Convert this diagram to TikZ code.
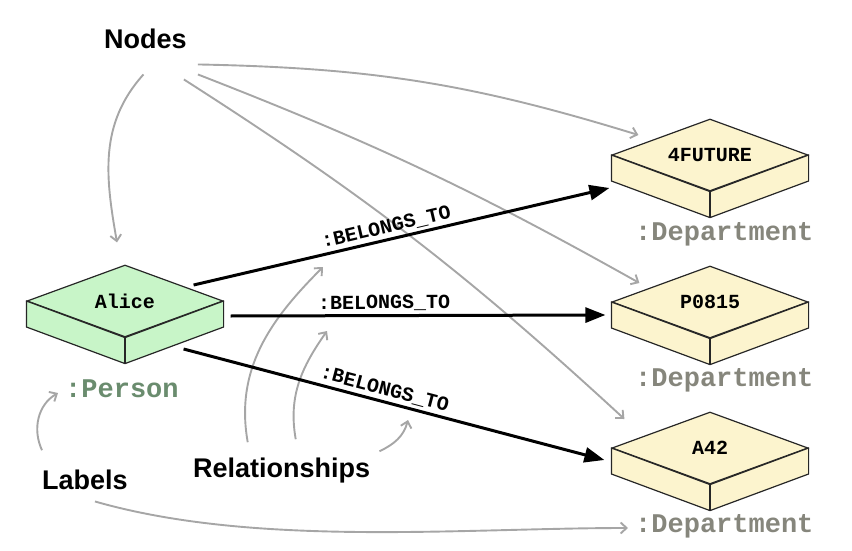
\documentclass[tikz,border=0pt]{standalone}
\usepackage{fontspec}
\setmainfont{Liberation Sans}
\setsansfont{Liberation Sans}
\setmonofont{Liberation Mono}
\usetikzlibrary{shapes.geometric, arrows.meta, calc}

\definecolor{persongreen}{HTML}{C8F5C8}
\definecolor{deptyellow}{HTML}{FCF4CE}
\definecolor{personlbl}{HTML}{6A8C6E}
\definecolor{deptlbl}{HTML}{86867C}
\definecolor{guidegray}{HTML}{A6A6A6}
\definecolor{edgeline}{HTML}{262626}

\tikzset{
  isobox/.style={diamond, draw=edgeline, line width=1.2pt, aspect=2.7,
    minimum width=196pt, minimum height=72pt, inner sep=0pt,
    font=\ttfamily\bfseries\fontsize{20}{20}\selectfont},
  personbox/.style={isobox, fill=persongreen},
  deptbox/.style={isobox, fill=deptyellow},
  rel/.style={line width=3pt, -{Triangle[length=20pt,width=15pt]}},
  reltext/.style={font=\ttfamily\bfseries\fontsize{20}{20}\selectfont,
    sloped, above, inner sep=3pt},
  guide/.style={guidegray, line width=1.9pt,
    -{Straight Barb[length=6pt,width=11pt]}},
  kindtext/.style={font=\sffamily\bfseries\fontsize{27}{27}\selectfont,
    anchor=base west, inner sep=0pt},
  typetext/.style={font=\ttfamily\bfseries\fontsize{27}{27}\selectfont,
    anchor=base west, inner sep=0pt}
}

\begin{document}
\begin{tikzpicture}[x=1pt, y=1pt]
    \useasboundingbox (0,0) rectangle (852,-551);

    % the graph
    \node[personbox] (alice) at (125,-301) {Alice};
    \node[deptbox] (fut) at (710,-155) {4FUTURE};
    \node[deptbox] (pdept) at (710,-302) {P0815};
    \node[deptbox] (adept) at (710,-448) {A42};
    \foreach \b/\c in {alice/persongreen, fut/deptyellow, pdept/deptyellow, adept/deptyellow}{
      \draw[edgeline, line width=1.2pt, fill=\c, line join=round]
        (\b.west) -- (\b.south) -- (\b.east) -- ++(0,-26)
        -- ($(\b.south)+(0,-26)$) -- ($(\b.west)+(0,-26)$) -- cycle;
      \draw[edgeline, line width=1.2pt] (\b.south) -- ++(0,-26);
    }

    \node[typetext, personlbl] (plbl) at (65,-397) {:Person};
    \node[typetext, deptlbl] (flbl) at (635,-240) {:Department};
    \node[typetext, deptlbl] (pdlbl) at (635,-386) {:Department};
    \node[typetext, deptlbl] (adlbl) at (635,-532) {:Department};

    % the three kinds
    \node[kindtext] (nodes) at (104,-49) {Nodes};
    \node[kindtext] (rels) at (193,-477) {Relationships};
    \node[kindtext] (labels) at (42,-489) {Labels};

    \coordinate (hint1) at (323,-267);
    \coordinate (hint2) at (327,-331);
    \coordinate (hint3) at (408,-420);

    % pointers
    \draw[guide] ([shift={(-2,-25)}]nodes.south) to[out=228, in=100] ([shift={(-8,22)}]alice.north);
    \draw[guide] ([shift={(11,-15)}]nodes.south east) to[bend left=8] ([shift={(27,20)}]fut.west);
    \draw[guide] ([shift={(11,-25)}]nodes.south east) to[bend left=4] ([shift={(28,19)}]pdept.west);
    \draw[guide] ([shift={(-3,-30)}]nodes.south east) to[bend left=5] ([shift={(13,29)}]adept.west);

    \draw[guide] ([shift={(-34,15)}]rels.north) to[out=100, in=225] (hint1);
    \draw[guide] ([shift={(14,18)}]rels.north) to[out=100, in=235] (hint2);
    \draw[guide] ([shift={(9,6)}]rels.north east) to[out=25, in=255] (hint3);

    \draw[guide] ([shift={(0,19)}]labels.north west) to[out=115, in=210] ([shift={(-7,4)}]plbl.base west);
    \draw[guide] ([shift={(10,-12)}]labels.south) to[out=-16, in=180, looseness=0.8] ([shift={(-7,4)}]adlbl.base west);

    % relationships
    \draw[rel] ([shift={(-30,16)}]alice.east) -- ([shift={(-2,-33)}]fut.west)
      node[reltext, pos=0.47] {:BELONGS\_TO};
    \draw[rel] ([shift={(7,-15)}]alice.east) -- ([shift={(-6,-13)}]pdept.west)
      node[reltext, pos=0.41] {:BELONGS\_TO};
    \draw[rel] ([shift={(-40,-48)}]alice.east) -- ([shift={(-7,-12)}]adept.west)
      node[reltext, pos=0.47] {:BELONGS\_TO};
\end{tikzpicture}
\end{document}
